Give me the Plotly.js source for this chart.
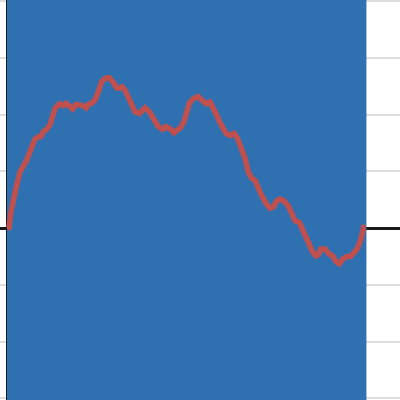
<!DOCTYPE html>
<html>
<head>
<meta charset="utf-8">
<script src="https://cdn.plot.ly/plotly-3.0.1.min.js"></script>
<style>html,body{margin:0;padding:0;background:#fff;}#chart{width:400px;height:400px;}</style>
</head>
<body>
<div id="chart"></div>
<script>
// Walk series (time, value)
const timeSteps = [0,0.56,1.12,1.76,2.71,3.63,4.55,5.50,6.23,6.90,7.82,8.74,9.41,10.14,11.09,12.01,12.77,13.41,14.61,15.73,16.48,17.60,18.35,19.27,20.20,21.15,22.07,22.71,23.66,24.58,25.50,26.45,27.37,28.58,29.69,30.64,31.56,32.12,32.96,33.88,34.83,35.75,36.96,37.91,38.55,39.75,40.70,41.34,42.26,43.49,44.41,45.53,46.65,47.57,48.52,49.44,50.20,50.92,52.04,53.44,54.39,55.59,56.70,57.63,58.58,59.30,60.25,61.17,62.29,63.41,64.33,65.28,66.20,66.48,67.40,68.35,69.27,70.20,71.15,72.35,73.46,74.39,75.34,76.26,77.37,78.58,79.53,80.45,81.65,82.60,83.52,84.44,85.39,86.31,86.96,87.63,88.83,90.03,90.98,91.90,92.82,93.77,94.89,96.01,96.93,97.85,98.80,99.60,100.1];
const walkValues = [0,0.01,0.29,0.53,0.76,0.99,1.08,1.20,1.32,1.46,1.57,1.61,1.61,1.70,1.74,1.82,1.99,2.11,2.19,2.16,2.20,2.13,2.10,2.18,2.18,2.16,2.12,2.18,2.20,2.26,2.40,2.58,2.64,2.65,2.57,2.47,2.47,2.49,2.43,2.29,2.18,2.05,2.02,2.08,2.12,2.05,1.96,1.91,1.79,1.74,1.79,1.75,1.68,1.73,1.77,1.88,2.05,2.20,2.28,2.32,2.26,2.19,2.22,2.12,1.99,1.88,1.79,1.67,1.63,1.67,1.59,1.42,1.29,1.23,0.99,0.88,0.84,0.70,0.57,0.44,0.35,0.37,0.48,0.51,0.48,0.39,0.26,0.13,0.10,-0.03,-0.18,-0.30,-0.42,-0.49,-0.47,-0.37,-0.37,-0.46,-0.49,-0.59,-0.63,-0.55,-0.50,-0.50,-0.43,-0.36,-0.21,0.01,0];
// Shaded band (start, end of the period)
const bandStart = [0];
const bandEnd = [100.4];

const bandTrace = {
  type: 'bar',
  x: [(bandStart[0] + bandEnd[0]) / 2],
  width: [bandEnd[0] - bandStart[0]],
  base: [-10],
  y: [20],
  marker: {color: '#2f70b1', line: {width: 0}},
  hoverinfo: 'skip',
  showlegend: false
};
const lineTrace = {
  type: 'scatter',
  mode: 'lines',
  x: timeSteps,
  y: walkValues,
  line: {color: '#c0504d', width: 5.5},
  showlegend: false
};

const layout = {
  width: 400, height: 400,
  margin: {l: 0, r: 0, t: 0, b: 0, pad: 0},
  paper_bgcolor: '#ffffff',
  plot_bgcolor: '#ffffff',
  showlegend: false,
  xaxis: {
    range: [-1.955, 109.78],
    showgrid: false,
    zeroline: true, zerolinecolor: '#1a1a1a', zerolinewidth: 3,
    showticklabels: false, ticks: '', showline: false
  },
  yaxis: {
    range: [-3.03, 4.02],
    dtick: 1, tick0: 0,
    showgrid: true, gridcolor: '#dddddd', gridwidth: 2,
    zeroline: true, zerolinecolor: '#1a1a1a', zerolinewidth: 3,
    showticklabels: false, ticks: '', showline: false
  }
};

Plotly.newPlot('chart', [bandTrace, lineTrace], layout, {displayModeBar: false, staticPlot: true});
</script>
</body>
</html>
